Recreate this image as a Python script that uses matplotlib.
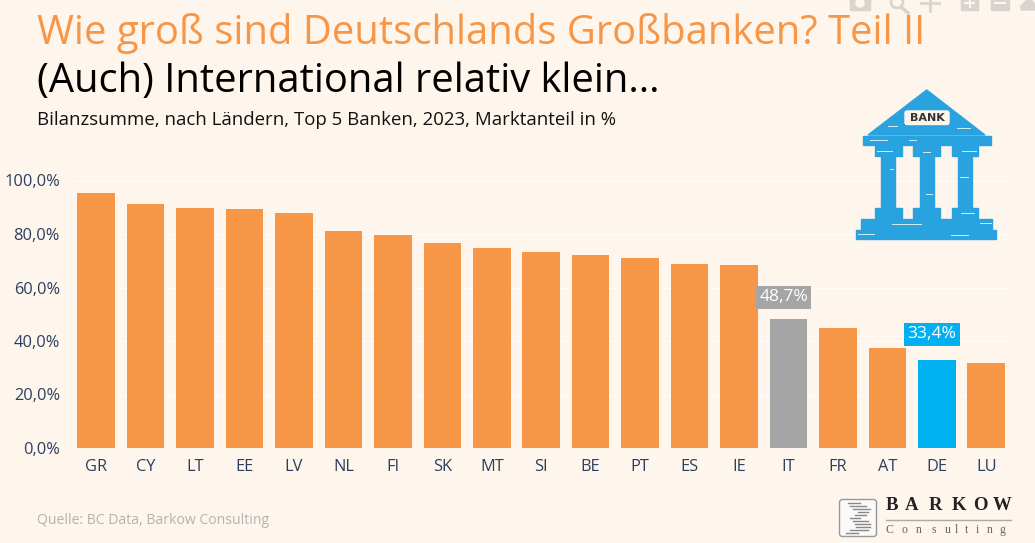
import matplotlib
matplotlib.use('Agg')
import matplotlib.pyplot as plt
from matplotlib.patches import Polygon, Rectangle, FancyBboxPatch, Circle

# Werte
laender = ['GR', 'CY', 'LT', 'EE', 'LV', 'NL', 'FI', 'SK', 'MT', 'SI',
           'BE', 'PT', 'ES', 'IE', 'IT', 'FR', 'AT', 'DE', 'LU']
marktanteil = [95.3, 91.2, 89.7, 89.2, 87.9, 81.1, 79.6, 76.6, 74.8, 73.3,
               72.1, 71.0, 68.9, 68.5, 48.3, 44.8, 37.5, 33.0, 31.8]
y_ticks = [0, 20, 40, 60, 80, 100]
y_tick_labels = ['0,0%', '20,0%', '40,0%', '60,0%', '80,0%', '100,0%']
hervorgehoben = {'IT': ('48,7%', '#A5A5A5'), 'DE': ('33,4%', '#00B0F0')}

BG = '#FEF5EC'
ORANGE = '#F79646'
BANK = '#29A3DF'
ICON = '#D8D5D1'
W, H = 1035, 543

plt.rcParams['font.family'] = ['Open Sans', 'DejaVu Sans']
fig = plt.figure(figsize=(W / 100, H / 100), dpi=100, facecolor=BG)

# Diagramm
ax = fig.add_axes([72.5 / W, 1 - 448 / H, 935.5 / W, 267.5 / H], facecolor=BG)
farben = [hervorgehoben[l][1] if l in hervorgehoben else ORANGE for l in laender]
ax.bar(range(len(laender)), marktanteil, width=0.76, color=farben, zorder=3)
ax.set_xlim(-0.48, 18.44)
ax.set_ylim(0, 100)
ax.set_yticks(y_ticks)
ax.set_yticklabels(y_tick_labels, fontsize=11.8, color='#2A3F5F')
ax.set_xticks(range(len(laender)))
ax.set_xticklabels(laender, fontsize=11.8, color='#2A3F5F')
ax.tick_params(length=0, pad=8)
ax.tick_params(axis='y', pad=9)
ax.grid(axis='y', color='#FFFDFA', linewidth=1, zorder=1)
for s in ax.spines.values():
    s.set_visible(False)

for i, land in enumerate(laender):
    if land in hervorgehoben:
        text, farbe = hervorgehoben[land]
        y = {'IT': 56.3, 'DE': 42.6}[land]
        ax.text(i - 0.1, y, text, ha='center', va='center', fontsize=12.5, color='white', zorder=5,
                bbox=dict(facecolor=farbe, edgecolor='none', pad=2.5))

# Overlay in Pixelkoordinaten fuer Text und Grafik
ov = fig.add_axes([0, 0, 1, 1], facecolor='none')
ov.set_xlim(0, W)
ov.set_ylim(H, 0)
ov.axis('off')

ov.text(37, 34, 'Wie groß sind Deutschlands Großbanken? Teil II', fontsize=28.85,
        color=ORANGE, va='center', ha='left')
ov.text(37, 82, '(Auch) International relativ klein...', fontsize=28.7,
        color='black', va='center', ha='left')
ov.text(37, 120, 'Bilanzsumme, nach Ländern, Top 5 Banken, 2023, Marktanteil in %', fontsize=13.45,
        color='#111111', va='center', ha='left')
ov.text(37, 520, 'Quelle: BC Data, Barkow Consulting', fontsize=10.1,
        color='#B3B3B3', va='center', ha='left')

# Werkzeugleiste oben rechts, im Original angeschnitten
ov.add_patch(Rectangle((850, -2), 20, 12, color=ICON))
ov.add_patch(Circle((860, 3), 4, color=BG))
ov.add_patch(Circle((897, 2), 6, fill=False, edgecolor=ICON, linewidth=2))
ov.plot([901, 908], [7, 13], color=ICON, linewidth=2.5)
ov.plot([930, 930], [-2, 11], color=ICON, linewidth=2)
ov.plot([921, 939], [3, 3], color=ICON, linewidth=2)
ov.add_patch(Rectangle((961, -2), 17, 12, color=ICON))
ov.add_patch(Rectangle((991, -2), 18, 12, color=ICON))
ov.plot([965, 974], [3, 3], color=BG, linewidth=1.5)
ov.plot([969.5, 969.5], [-1, 7], color=BG, linewidth=1.5)
ov.plot([995, 1005], [3, 3], color=BG, linewidth=1.5)
ov.add_patch(Polygon([[1021, 6], [1029, -2], [1037, 6], [1037, 10], [1021, 10]], color=ICON))

# Bank-Symbol
ov.add_patch(Polygon([[926.7, 90], [868, 135], [985, 135]], color=BANK))
ov.add_patch(FancyBboxPatch((905, 111), 44, 13.5, boxstyle='round,pad=0,rounding_size=2', color=BG))
ov.text(927, 118, 'BANK', fontsize=8, fontweight='bold', color='#333333', ha='center', va='center',
        family=['DejaVu Sans'])
ov.add_patch(Rectangle((862.7, 135.5), 128, 9.5, color=BANK))
for cx in [888.3, 926.7, 965]:
    ov.add_patch(Rectangle((cx - 13.4, 146), 26.8, 9.5, color=BANK))
    ov.add_patch(Rectangle((cx - 7, 155.5), 14, 52.5, color=BANK))
    ov.add_patch(Rectangle((cx - 13.4, 208), 26.8, 10, color=BANK))
ov.add_patch(Rectangle((860.7, 219), 131, 9.5, color=BANK))
ov.add_patch(Rectangle((856, 229.5), 140, 9, color=BANK))
# helle Risse im Symbol
risse = [(888, 126, 897), (957, 128, 970), (870, 140, 887), (909, 140, 916), (877, 151, 892),
         (923, 152, 930), (962, 151, 976), (890, 169, 893), (960, 177, 968), (926, 194, 932),
         (961, 213, 974), (892, 224, 921), (980, 223, 991), (858, 234, 874), (951, 235, 968)]
for x0, y0, x1 in risse:
    ov.plot([x0, x1], [y0, y0], color='#D6ECF6', linewidth=0.7)

# Logo
ov.add_patch(FancyBboxPatch((839.5, 499.5), 37, 37, boxstyle='round,pad=0,rounding_size=3',
                            facecolor='#FBFAF8', edgecolor='#999999', linewidth=1))
for y0, x0, x1 in [(503, 848, 860), (506, 850, 866), (509, 853, 870), (512, 858, 868), (515, 855, 866),
                   (518, 850, 860), (521, 853, 868), (524, 855, 870), (527, 856, 870), (530, 850, 868),
                   (533, 846, 858)]:
    ov.plot([x0, x1], [y0, y0], color='#888888', linewidth=1)
logo_oben_x = [886, 905, 929, 952, 973, 993]
for x, c in zip(logo_oben_x, 'BARKOW'):
    ov.text(x, 506, c, fontsize=13.5, family=['Liberation Serif'], fontweight='bold',
            color='#222222', va='center', ha='left')
ov.plot([886, 1011], [520, 520], color='#AAAAAA', linewidth=1)
logo_unten_x = [886, 901, 916, 931, 945, 955, 965, 976, 987, 1000]
for x, c in zip(logo_unten_x, 'Consulting'):
    ov.text(x, 530, c, fontsize=8.5, family=['Liberation Serif'],
            color='#666666', va='center', ha='left')

fig.savefig('out.png', dpi=100, facecolor=BG)
